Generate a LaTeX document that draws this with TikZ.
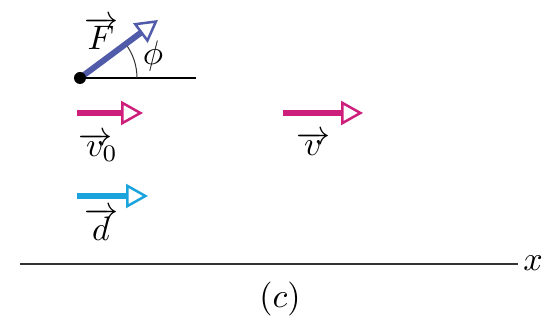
\documentclass[tikz,border=0pt]{standalone}
\usetikzlibrary{arrows.meta}
\definecolor{fcol}{RGB}{80,92,170}
\definecolor{vcol}{RGB}{204,30,122}
\definecolor{dcol}{RGB}{26,163,220}
\begin{document}
\begin{tikzpicture}[x=1pt,y=-1pt,
  vecarrow/.style={line width=6pt,-{Triangle[open,length=22pt,width=24pt,line width=2.5pt]}},
  lbl/.style={inner sep=0pt,scale=3.4},
  thin line/.style={line width=1.2pt,black}]
\useasboundingbox (0,0) rectangle (548,328);
% force diagram
\coordinate (O) at (80,78);
\coordinate (H) at (196,78);
\coordinate (Ftip) at (158,20);
\draw[thin line] (O) -- (H);
\draw[line width=1pt,black!80] (137,78) arc[start angle=0,end angle=-36.6,radius=57];
\draw[vecarrow,fcol] (O) -- (Ftip);
\fill[black] (O) circle (6);
\node[lbl] (F) at (101,33) {$\overrightarrow{F}$};
\node[lbl] (phi) at (153,56) {$\phi$};
% velocities
\coordinate (v0s) at (77,113);
\coordinate (v0e) at (143,113);
\draw[vecarrow,vcol] (v0s) -- (v0e);
\node[lbl] (v0) at (98,147) {$\overrightarrow{v}\mkern-5mu{}_{0}$};
\coordinate (vs) at (283,113);
\coordinate (ve) at (363,113);
\draw[vecarrow,vcol] (vs) -- (ve);
\node[lbl] (v) at (313,144) {$\overrightarrow{v}$};
% displacement
\coordinate (ds) at (77,196);
\coordinate (de) at (148,196);
\draw[vecarrow,dcol] (ds) -- (de);
\node[lbl] (d) at (101,224) {$\overrightarrow{d}$};
% axis
\coordinate (ax1) at (20,264);
\coordinate (ax2) at (518,264);
\draw[line width=1.6pt,black!80] (ax1) -- (ax2);
\node[lbl] (x) at (533,263) {$x$};
\node[lbl] (c) at (280,299) {$(c)$};
\end{tikzpicture}
\end{document}
